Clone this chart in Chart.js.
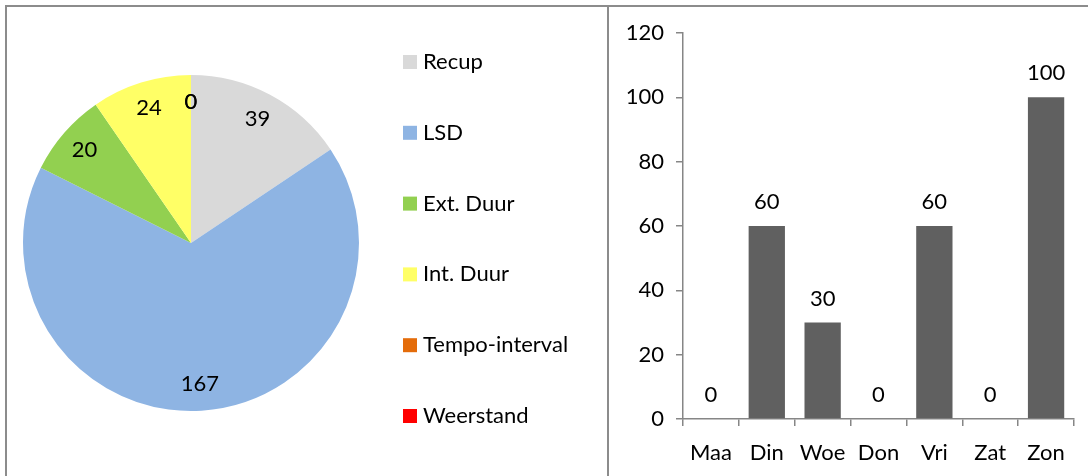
<!DOCTYPE html>
<html>

<head>
    <meta charset="UTF-8">
    <title>Training</title>
    <script src="https://cdn.jsdelivr.net/npm/chart.js@4.4.0/dist/chart.umd.min.js"></script>
    <style>
        * {
            margin: 0;
            padding: 0;
            box-sizing: border-box;
        }

        body {
            background: #fff;
            width: 1088px;
            height: 476px;
            overflow: hidden;
            font-family: Lato, sans-serif;
        }

        .frame {
            position: absolute;
            left: 5px;
            top: 5px;
            width: 1090px;
            height: 480px;
            border-left: 2px solid #8c8c8c;
            border-top: 2px solid #8c8c8c;
        }

        .panel {
            position: absolute;
            top: 7px;
            height: 469px;
        }

        #pieBox {
            left: 7px;
            width: 600px;
        }

        #barBox {
            left: 610px;
            width: 478px;
        }

        .divider {
            position: absolute;
            left: 607px;
            top: 5px;
            width: 2px;
            height: 480px;
            background: #8c8c8c;
        }
    </style>
</head>

<body>
    <div class="frame"></div>
    <div class="divider"></div>
    <div class="panel" id="pieBox"><canvas id="pieChart"></canvas></div>
    <div class="panel" id="barBox"><canvas id="barChart"></canvas></div>

    <script>
        // pie: training types (minutes)
        const typeLabels = ['Recup', 'LSD', 'Ext. Duur', 'Int. Duur', 'Tempo-interval', 'Weerstand'];
        const typeValues = [39, 167, 20, 24, 0, 0];
        const typeColors = ['#d9d9d9', '#8eb4e3', '#92d050', '#ffff66', '#e46c0a', '#ff0000'];

        // bar: per day
        const dayLabels = ['Maa', 'Din', 'Woe', 'Don', 'Vri', 'Zat', 'Zon'];
        const dayValues = [0, 60, 30, 0, 60, 0, 100];

        const FONT = 'Lato, sans-serif';
        const SIZE = 22;
        const axisGrey = '#868686';

        // value labels inside the pie slices
        const pieLabels = {
            id: 'pieLabels',
            afterDatasetsDraw(chart) {
                const ctx = chart.ctx;
                const meta = chart.getDatasetMeta(0);
                ctx.save();
                ctx.font = SIZE + 'px ' + FONT;
                ctx.fillStyle = '#000';
                ctx.textAlign = 'center';
                ctx.textBaseline = 'middle';
                meta.data.forEach((arc, i) => {
                    const p = arc.getProps(['x', 'y', 'startAngle', 'endAngle', 'outerRadius'], true);
                    const mid = (p.startAngle + p.endAngle) / 2;
                    const d = p.outerRadius * 0.84;
                    ctx.fillText(String(chart.data.datasets[0].data[i]),
                        p.x + Math.cos(mid) * d, p.y + Math.sin(mid) * d);
                });
                ctx.restore();
            }
        };

        // legend drawn as a spaced column like the original
        const pieLegend = {
            id: 'pieLegend',
            afterDraw(chart) {
                const ctx = chart.ctx;
                const x0 = 396, y0 = 55, step = 70.8, box = 14;
                ctx.save();
                ctx.font = SIZE + 'px ' + FONT;
                ctx.textBaseline = 'middle';
                ctx.textAlign = 'left';
                chart.data.labels.forEach((lab, i) => {
                    const y = y0 + i * step;
                    ctx.fillStyle = chart.data.datasets[0].backgroundColor[i];
                    ctx.fillRect(x0, y - box / 2, box, box);
                    ctx.fillStyle = '#000';
                    ctx.fillText(lab, x0 + 20, y);
                });
                ctx.restore();
            }
        };

        // numbers above the bars
        const barLabels = {
            id: 'barLabels',
            afterDatasetsDraw(chart) {
                const ctx = chart.ctx;
                const meta = chart.getDatasetMeta(0);
                ctx.save();
                ctx.font = SIZE + 'px ' + FONT;
                ctx.fillStyle = '#000';
                ctx.textAlign = 'center';
                ctx.textBaseline = 'middle';
                meta.data.forEach((bar, i) => {
                    ctx.fillText(String(chart.data.datasets[0].data[i]), bar.x, bar.y - 24);
                });
                ctx.restore();
            }
        };

        new Chart(document.getElementById('pieChart'), {
            type: 'pie',
            data: {
                labels: typeLabels,
                datasets: [{
                    data: typeValues,
                    backgroundColor: typeColors,
                    borderWidth: 0
                }]
            },
            options: {
                responsive: true,
                maintainAspectRatio: false,
                animation: false,
                layout: { padding: { left: 16, right: 248, top: 68, bottom: 65 } },
                plugins: {
                    legend: { display: false },
                    tooltip: { enabled: false }
                }
            },
            plugins: [pieLabels, pieLegend]
        });

        new Chart(document.getElementById('barChart'), {
            type: 'bar',
            data: {
                labels: dayLabels,
                datasets: [{
                    data: dayValues,
                    backgroundColor: '#606060',
                    barPercentage: 0.65,
                    categoryPercentage: 1
                }]
            },
            options: {
                responsive: true,
                maintainAspectRatio: false,
                animation: false,
                layout: { padding: { left: 0, right: 14, top: 26, bottom: 0 } },
                plugins: {
                    legend: { display: false },
                    tooltip: { enabled: false }
                },
                scales: {
                    x: {
                        offset: true,
                        afterFit: s => { s.height = 57; },
                        grid: {
                            offset: true,
                            drawOnChartArea: false,
                            tickLength: 7,
                            color: axisGrey,
                            lineWidth: 1.5
                        },
                        border: { color: axisGrey, width: 1.5 },
                        ticks: { color: '#000', font: { family: FONT, size: SIZE }, padding: 14, maxRotation: 0 }
                    },
                    y: {
                        min: 0,
                        max: 120,
                        afterFit: s => { s.width = 73; },
                        grid: {
                            drawOnChartArea: false,
                            tickLength: 7,
                            color: axisGrey,
                            lineWidth: 1.5
                        },
                        border: { color: axisGrey, width: 1.5 },
                        ticks: { stepSize: 20, color: '#000', font: { family: FONT, size: SIZE }, padding: 12 }
                    }
                }
            },
            plugins: [barLabels]
        });
    </script>
</body>

</html>
